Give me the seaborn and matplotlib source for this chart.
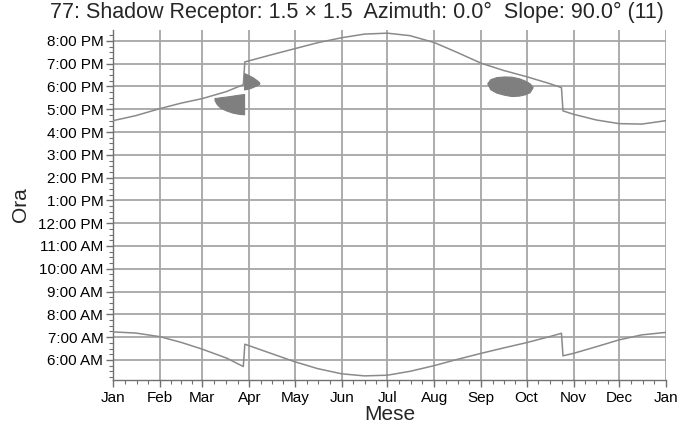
import numpy as np
import pandas as pd
import matplotlib
matplotlib.use("Agg")
import matplotlib.pyplot as plt
import seaborn as sns
from matplotlib.ticker import FixedLocator, FuncFormatter

# Sunset / sunrise (hours of local clock time) by day of year
sunset_day = [0, 15, 31, 45, 59, 75, 86, 87, 90, 105, 120, 135, 151, 166, 181, 196,
              212, 227, 243, 258, 273, 288, 296, 297, 304, 319, 334, 349, 365]
sunset_hour = [16.50, 16.72, 17.03, 17.27, 17.47, 17.78, 18.08, 19.08, 19.13, 19.40,
               19.66, 19.92, 20.14, 20.30, 20.34, 20.23, 19.93, 19.50, 19.02, 18.70,
               18.43, 18.13, 17.95, 16.93, 16.78, 16.53, 16.37, 16.35, 16.50]

sunrise_day = [0, 15, 31, 45, 59, 75, 86, 87, 90, 105, 120, 135, 151, 166, 181, 196,
               212, 227, 243, 258, 273, 288, 296, 297, 304, 319, 334, 349, 365]
sunrise_hour = [7.23, 7.18, 7.02, 6.77, 6.47, 6.08, 5.71, 6.69, 6.62, 6.27, 5.92, 5.62,
                5.39, 5.30, 5.33, 5.50, 5.75, 6.02, 6.29, 6.53, 6.76, 7.02, 7.17, 6.18,
                6.29, 6.58, 6.88, 7.10, 7.21]

# Shadow periods: day of year, start hour, end hour
shadow1_day = [67, 68.5, 71, 75, 79, 83, 86.5]
shadow1_start = [17.40, 17.22, 17.06, 16.94, 16.85, 16.80, 16.78]
shadow1_end = [17.50, 17.50, 17.53, 17.56, 17.60, 17.64, 17.67]

shadow2_day = [86.5, 89, 92, 95, 96.5]
shadow2_start = [17.87, 17.90, 17.97, 18.06, 18.12]
shadow2_end = [18.59, 18.51, 18.41, 18.27, 18.18]

shadow3_day = [247, 249, 253, 258, 263, 268, 272, 275, 277]
shadow3_start = [18.14, 17.88, 17.73, 17.64, 17.58, 17.60, 17.66, 17.75, 17.97]
shadow3_end = [18.14, 18.32, 18.41, 18.44, 18.43, 18.36, 18.25, 18.14, 17.97]

month_start = [0, 31, 59, 90, 120, 151, 181, 212, 243, 273, 304, 334, 365]
month_labels = ["Jan", "Feb", "Mar", "Apr", "May", "Jun", "Jul", "Aug", "Sep",
                "Oct", "Nov", "Dec", "Jan"]
hour_ticks = list(range(6, 21))

title = "77: Shadow Receptor: 1.5 \u00d7 1.5  Azimuth: 0.0\u00b0  Slope: 90.0\u00b0 (11)"

sns.set_theme(style="white")
plt.rcParams["font.family"] = ["Liberation Sans", "DejaVu Sans"]

fig = plt.figure(figsize=(6.96, 4.30), dpi=100)
ax = fig.add_axes([0.1624, 0.1163, 0.7945, 0.814])

line_color = "#8a8a8a"
blob_color = "#7f7f7f"
grid_color = "#a6a6a6"

sun = pd.concat([
    pd.DataFrame({"day": sunset_day, "hour": sunset_hour, "curve": "sunset"}),
    pd.DataFrame({"day": sunrise_day, "hour": sunrise_hour, "curve": "sunrise"}),
])
sns.lineplot(data=sun, x="day", y="hour", units="curve", estimator=None, sort=False,
             color=line_color, linewidth=1.1, ax=ax, zorder=3)

for d, s, e in [(shadow1_day, shadow1_start, shadow1_end),
                (shadow2_day, shadow2_start, shadow2_end),
                (shadow3_day, shadow3_start, shadow3_end)]:
    ax.fill_between(d, s, e, color=blob_color, linewidth=0.8, edgecolor=blob_color, zorder=4)

ax.set_xlim(0, 365)
ax.set_ylim(5.12, 20.48)

ax.xaxis.set_major_locator(FixedLocator(month_start))
ax.set_xticklabels(month_labels)
minor_x = []
for a, b in zip(month_start[:-1], month_start[1:]):
    minor_x += [a + (b - a) * q / 4 for q in (1, 2, 3)]
ax.xaxis.set_minor_locator(FixedLocator(minor_x))

def hour_label(h, pos):
    h = int(round(h))
    suffix = "AM" if h < 12 else "PM"
    hh = h % 12
    if hh == 0:
        hh = 12
    return f"{hh}:00 {suffix}"

ax.yaxis.set_major_locator(FixedLocator(hour_ticks))
ax.yaxis.set_major_formatter(FuncFormatter(hour_label))
ax.yaxis.set_minor_locator(FixedLocator([h + q / 4 for h in range(5, 21) for q in (1, 2, 3)
                                         if 5.12 < h + q / 4 < 20.48]))

ax.grid(True, which="major", color=grid_color, linewidth=1.3)
for side in ("top", "right"):
    ax.spines[side].set_visible(False)
for side in ("left", "bottom"):
    ax.spines[side].set_color("#707070")
    ax.spines[side].set_linewidth(1.0)

ax.tick_params(axis="both", which="both", bottom=True, left=True, top=False, right=False)
ax.tick_params(axis="both", which="major", labelsize=11, colors="#707070",
               labelcolor="black", length=5, width=1, direction="out", pad=2)
ax.tick_params(axis="both", which="minor", colors="#707070", length=3, width=0.8,
               direction="out")
ax.tick_params(axis="x", which="major", pad=3)

ax.set_xlabel("Mese", fontsize=15, labelpad=0)
ax.set_ylabel("Ora", fontsize=15, labelpad=6)
fig.suptitle(title, fontsize=15.5, x=0.513, y=0.995, va="top")

fig.savefig("out.png", dpi=100)
